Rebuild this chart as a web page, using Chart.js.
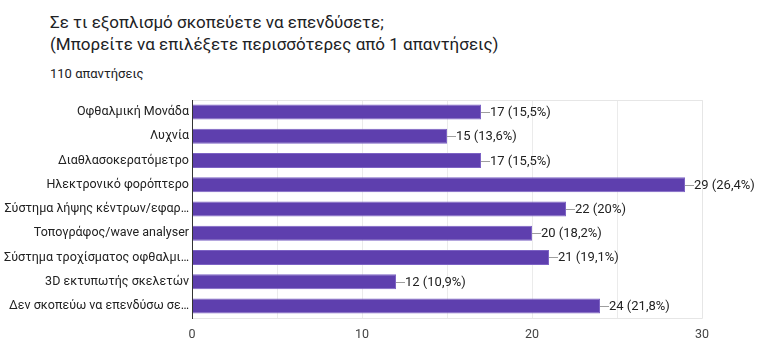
<!DOCTYPE html>
<html>
<head>
<meta charset="utf-8">
<script src="https://cdn.jsdelivr.net/npm/chart.js@4/dist/chart.umd.min.js"></script>
<style>
  html, body { margin: 0; padding: 0; background: #fff; }
  body { width: 768px; height: 349px; position: relative; overflow: hidden; font-family: Roboto, Arial, sans-serif; }
  .title { position: absolute; left: 50px; top: 11px; font-size: 17px; line-height: 22px; color: #202124; white-space: nowrap; }
  .count { position: absolute; left: 50px; top: 66px; font-size: 13px; color: #202124; }
  #chart { position: absolute; left: 0; top: 0; }
</style>
</head>
<body>
<div class="title">Σε τι εξοπλισμό σκοπεύετε να επενδύσετε;<br>(Μπορείτε να επιλέξετε περισσότερες από 1 απαντήσεις)</div>
<div class="count">110 απαντήσεις</div>
<canvas id="chart" width="768" height="349"></canvas>
<script>
// === Data ===
const CATEGORIES = [
  "Οφθαλμική Μονάδα",
  "Λυχνία",
  "Διαθλασοκερατόμετρο",
  "Ηλεκτρονικό φορόπτερο",
  "Σύστημα λήψης κέντρων/εφαρ…",
  "Τοπογράφος/wave analyser",
  "Σύστημα τροχίσματος οφθαλμι…",
  "3D εκτυπωτής σκελετών",
  "Δεν σκοπεύω να επενδύσω σε…"
];
const COUNTS = [17, 15, 17, 29, 22, 20, 21, 12, 24];
const TOTAL = 110;
const X_TICKS = [0, 10, 20, 30];

const FONT = "Roboto, Arial, sans-serif";
const BAR_COLOR = "#5e3fae";

function pctLabel(v) {
  const p = Math.round(v / TOTAL * 1000) / 10;
  return v + " (" + String(p).replace(".", ",") + "%)";
}

// frame around the plot + darker axis line at 0
const framePlugin = {
  id: "frame",
  beforeDatasetsDraw(chart) {
    const { ctx, chartArea: a } = chart;
    ctx.save();
    ctx.strokeStyle = "#e6e6e6";
    ctx.lineWidth = 1;
    ctx.beginPath();
    ctx.moveTo(a.left, a.top + 0.5);
    ctx.lineTo(a.right + 0.5, a.top + 0.5);
    ctx.lineTo(a.right + 0.5, a.bottom + 0.5);
    ctx.lineTo(a.left, a.bottom + 0.5);
    ctx.stroke();
    ctx.restore();
  },
  afterDatasetsDraw(chart) {
    const { ctx, chartArea: a } = chart;
    ctx.save();
    ctx.strokeStyle = "#333";
    ctx.beginPath();
    ctx.moveTo(a.left + 0.5, a.top);
    ctx.lineTo(a.left + 0.5, a.bottom + 1);
    ctx.stroke();
    ctx.restore();
  }
};

// value labels with a short leader line
const valueLabels = {
  id: "valueLabels",
  afterDatasetsDraw(chart) {
    const { ctx } = chart;
    const meta = chart.getDatasetMeta(0);
    ctx.save();
    ctx.font = "13px " + FONT;
    ctx.textBaseline = "middle";
    meta.data.forEach((bar, i) => {
      const x = bar.x, y = Math.round(bar.y) + 0.5;
      ctx.strokeStyle = "#9e9e9e";
      ctx.lineWidth = 1;
      ctx.beginPath();
      ctx.moveTo(x, y);
      ctx.lineTo(x + 9, y);
      ctx.stroke();
      ctx.fillStyle = "#222";
      ctx.fillText(pctLabel(COUNTS[i]), x + 9, y);
    });
    ctx.restore();
  }
};

new Chart(document.getElementById("chart"), {
  type: "bar",
  data: {
    labels: CATEGORIES,
    datasets: [{
      data: COUNTS,
      backgroundColor: BAR_COLOR,
      borderColor: "#7d63c4",
      borderWidth: 1,
      barPercentage: 0.62,
      categoryPercentage: 1
    }]
  },
  options: {
    indexAxis: "y",
    responsive: false,
    animation: false,
    layout: { padding: { top: 100, right: 66, left: 0, bottom: 0 } },
    plugins: { legend: { display: false }, tooltip: { enabled: false } },
    scales: {
      x: {
        min: 0,
        max: 30,
        afterFit(s) { s.height = 31; },
        ticks: {
          stepSize: 5,
          padding: 9,
          color: "#444",
          font: { family: FONT, size: 12.5 },
          callback: (v) => X_TICKS.includes(v) ? String(v) : ""
        },
        grid: { color: "#ebebeb", drawTicks: false },
        border: { display: false }
      },
      y: {
        afterFit(s) { s.width = 192; },
        ticks: {
          padding: 3,
          color: "#222",
          autoSkip: false,
          font: { family: FONT, size: 12.5 }
        },
        grid: { display: false, drawTicks: false },
        border: { display: false }
      }
    }
  },
  plugins: [framePlugin, valueLabels]
});
</script>
</body>
</html>
